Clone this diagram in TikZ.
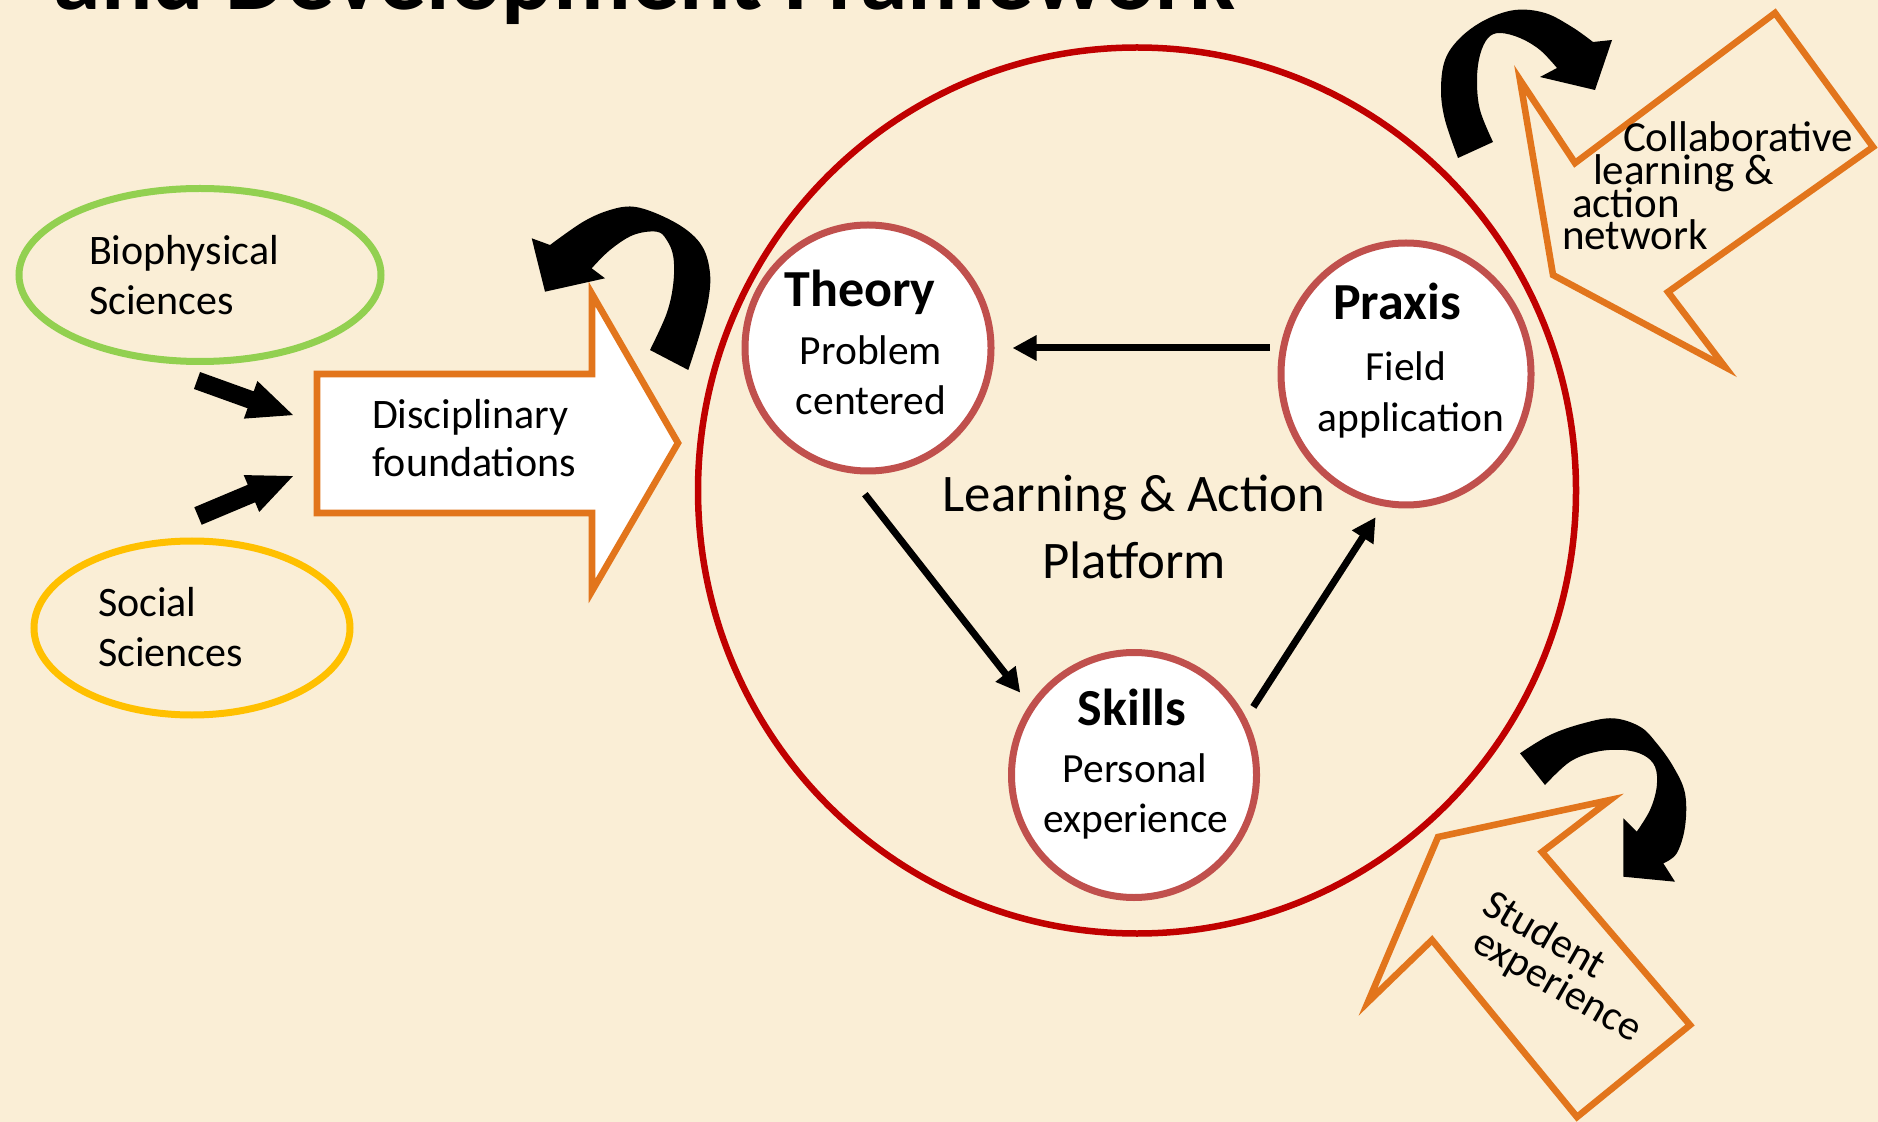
\documentclass[tikz,border=0pt]{standalone}
\usepackage{fontspec}
\setmainfont{Carlito}
\usetikzlibrary{arrows.meta,shapes.geometric}
\definecolor{bg}{RGB}{250,238,214}
\definecolor{ringred}{RGB}{192,0,0}
\definecolor{nodered}{RGB}{192,80,77}
\definecolor{biogreen}{RGB}{146,208,80}
\definecolor{socyellow}{RGB}{255,192,0}
\definecolor{arrorange}{RGB}{226,117,28}
\begin{document}
\begin{tikzpicture}[x=0.5pt,y=-0.5pt,
  txt/.style={inner sep=0pt, outer sep=0pt, text=black},
  lab/.style={txt, font=\fontsize{20.75pt}{25pt}\selectfont},
  side/.style={txt, font=\fontsize{21pt}{25pt}\selectfont},
  headlab/.style={txt, font=\fontsize{26pt}{31pt}\selectfont\bfseries},
  biglab/.style={txt, font=\fontsize{26.4pt}{32pt}\selectfont},
  smalllab/.style={txt, font=\fontsize{21.5pt}{24pt}\selectfont},
  stage/.style={circle, draw=nodered, line width=3.5pt, fill=white, inner sep=0pt},
  flow/.style={line width=3.5pt, -{Triangle[length=12pt,width=12pt]}},
  block/.style={draw=arrorange, line width=3.3pt, line join=miter},
  oval/.style={ellipse, line width=3.5pt, inner sep=0pt},
]
\path[use as bounding box] (0,0) rectangle (1878,1122);
\clip (0,0) rectangle (1878,1122);
\fill[bg] (0,0) rectangle (1878,1122);

% title (cut off at top)
\node[txt, anchor=base west, font=\fontsize{47.9pt}{57pt}\selectfont\bfseries] (title) at (54,10) {and Development Framework};

% big ring
\node[oval, draw=ringred, line width=3.25pt, minimum width=439pt, minimum height=443pt] (ring) at (1137,490.5) {};

% left ovals
\node[oval, draw=biogreen, minimum width=181pt, minimum height=86.5pt] (bio) at (200,275) {};
\node[side, anchor=base west] (bio1) at (89,265) {Biophysical};
\node[side, anchor=base west] (bio2) at (89,315) {Sciences};
\node[oval, draw=socyellow, minimum width=158pt, minimum height=87pt] (soc) at (192,628) {};
\node[side, anchor=base west] (soc1) at (98,616) {Social};
\node[side, anchor=base west] (soc2) at (98,666) {Sciences};

% black small arrows
\fill[shift={(197,380.5)}, rotate=-19.8] (0,-9) -- (57,-9) -- (57,-20) -- (102,0) -- (57,20) -- (57,9) -- (0,9) -- cycle;
\fill[shift={(198,516)}, rotate=22.8] (0,-9.5) -- (58,-9.5) -- (58,-20) -- (103,0) -- (58,20) -- (58,9.5) -- (0,9.5) -- cycle;

% disciplinary block arrow
\draw[block, fill=white] (317,374) -- (592,374) -- (592,294) -- (678,443) -- (592,591) -- (592,513) -- (317,513) -- cycle;
\node[side, anchor=base west] (disc1) at (372,429) {Disciplinary};
\node[side, anchor=base west] (disc2) at (372,477) {foundations};

% curved arrow near disciplinary
\fill (688.3,370) -- plot[smooth, tension=0.6] coordinates {(688.3,370) (700,333.3) (708.3,300) (710,273.3) (703.3,248.3) (686.7,230) (660,215) (633.3,206.7) (610,210) (583.3,221.7) (550,245)}
  -- (531.7,238.3) -- (545,291.7) -- (605,278.3) -- (591.7,268.3)
  -- plot[smooth, tension=0.6] coordinates {(591.7,268.3) (610,250) (633.3,235) (656.7,231.7) (666.7,240) (673.3,256.7) (673.3,283.3) (666.7,313.3) (650,350)} -- cycle;

% collaborative block arrow
\draw[block] (1553,275) -- (1520,80) -- (1575,163) -- (1775,13) -- (1873,147) -- (1668,292) -- (1725,367) -- cycle;
\node[smalllab, anchor=base west] (col1) at (1623,152) {Collaborative};
\node[smalllab, anchor=base west] (col2) at (1593,185) {learning \&};
\node[smalllab, anchor=base west] (col3) at (1572,218) {action};
\node[smalllab, anchor=base west] (col4) at (1562,250) {network};

% curved arrow top right
\fill (1458,158) -- plot[smooth, tension=0.6] coordinates {(1458,158) (1445,120) (1441,90) (1445,60) (1460,38) (1485,20) (1515,10) (1545,13) (1572,27) (1593,42)}
  -- (1612,40) -- (1595,90) -- (1540,77) -- (1557,68)
  -- plot[smooth, tension=0.6] coordinates {(1557,68) (1540,50) (1520,38) (1500,33) (1488,38) (1480,55) (1477,80) (1480,110) (1493,142)} -- cycle;

% student block arrow
\draw[block] (1438,837) -- (1610,800) -- (1542,852) -- (1690,1025) -- (1577,1117) -- (1432,940) -- (1368,1002) -- cycle;
\node[side, anchor=base west, rotate=-30] (stud1) at (1480,912) {Student};
\node[side, anchor=base west, rotate=-30] (stud2) at (1470,949.5) {experience};

% curved arrow lower right
\fill (1520,753.3) -- plot[smooth, tension=0.6] coordinates {(1520,753.3) (1550,735) (1583.3,723.3) (1613.3,718.3) (1640,726.7) (1656.7,743.3) (1673.3,766.7) (1685,793.3) (1685,826.7) (1676.7,853.3) (1663.3,863.3)}
  -- (1675,881.7) -- (1623.3,876.7) -- (1623.3,818.3) -- (1636.7,831.7)
  -- plot[smooth, tension=0.6] coordinates {(1636.7,831.7) (1650,810) (1656.7,786.7) (1655,766.7) (1643.3,755) (1623.3,750) (1596.7,751.7) (1570,761.7) (1545,785)} -- cycle;

% stage circles
\node[stage, minimum size=123pt] (theory) at (868,348) {};
\node[stage, ellipse, minimum width=125pt, minimum height=131pt] (praxis) at (1406,374) {};
\node[stage, minimum size=122.5pt] (skills) at (1134,775) {};

\node[headlab, anchor=base] (theoryt) at (860,307) {Theory};
\node[lab, anchor=base] (theory1) at (871,365) {Problem};
\node[lab, anchor=base] (theory2) at (871,415) {centered};

\node[headlab, anchor=base] (praxist) at (1397,320) {Praxis};
\node[lab, anchor=base] (praxis1) at (1406,381) {Field};
\node[lab, anchor=base] (praxis2) at (1411,432) {application};

\node[headlab, anchor=base] (skillst) at (1132,725) {Skills};
\node[lab, anchor=base] (skills1) at (1135,782) {Personal};
\node[lab, anchor=base] (skills2) at (1136,832) {experience};

\node[biglab, anchor=base] (plat1) at (1134,512) {Learning \& Action};
\node[biglab, anchor=base] (plat2) at (1134,578) {Platform};

% cycle arrows
\draw[flow, shorten <=4pt, shorten >=9pt] (praxis.west |- theory.east) -- (theory.east);
\draw[flow, shorten <=13.5pt, shorten >=7.5pt] (theory.261) -- (skills.146);
\draw[flow, shorten <=6.5pt, shorten >=6.5pt] (skills.27) -- (praxis.260);
\end{tikzpicture}
\end{document}
